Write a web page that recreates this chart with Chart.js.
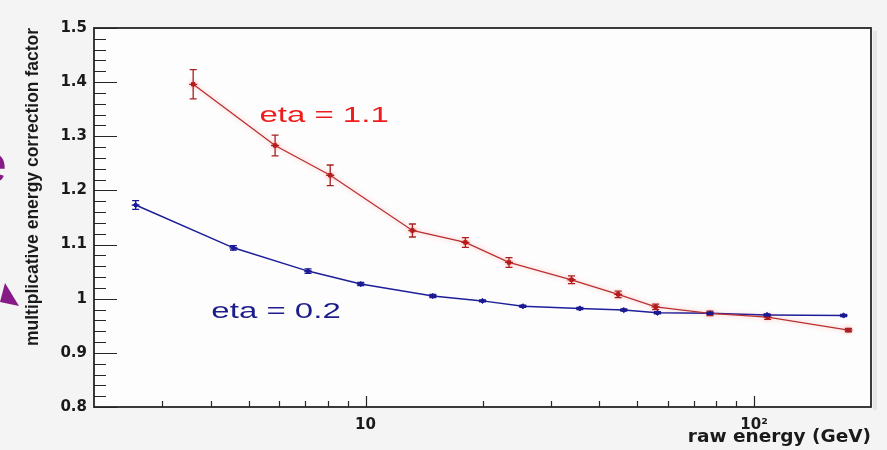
<!DOCTYPE html>
<html>
<head>
<meta charset="utf-8">
<script src="https://cdn.jsdelivr.net/npm/chart.js@4.4.1/dist/chart.umd.min.js"></script>
<style>
  html, body { margin: 0; padding: 0; background: #f4f4f4; }
  #c { display: block; }
</style>
</head>
<body>
<canvas id="c" width="887" height="450"></canvas>
<script>
// eta = 1.1 : raw energy (GeV), correction factor, uncertainty
const energyEta11 = [3.6, 5.85, 8.11, 13.2, 18.07, 23.4, 33.9, 44.7, 55.8, 77, 108.4, 175];
const factorEta11 = [1.396, 1.283, 1.228, 1.126, 1.104, 1.067, 1.035, 1.008, 0.985, 0.973, 0.966, 0.942];
const errorEta11  = [0.027, 0.019, 0.019, 0.012, 0.009, 0.009, 0.007, 0.006, 0.005, 0.004, 0.004, 0.003];

// eta = 0.2
const energyEta02 = [2.56, 4.57, 7.11, 9.72, 14.9, 20, 25.4, 35.6, 46.2, 56.4, 77, 108, 170];
const factorEta02 = [1.173, 1.094, 1.051, 1.027, 1.005, 0.996, 0.986, 0.982, 0.979, 0.974, 0.973, 0.970, 0.969];
const errorEta02  = [0.008, 0.004, 0.004, 0.003, 0.003, 0.002, 0.002, 0.002, 0.002, 0.002, 0.002, 0.002, 0.002];

// axis ticks
const xLabelValues = [10, 100];
const xLabelText   = ['10', '10\u00B2'];
const xMinorValues = [3, 4, 5, 6, 7, 8, 9, 20, 30, 40, 50, 60, 70, 80, 90];
const yLabelValues = [0.8, 0.9, 1.0, 1.1, 1.2, 1.3, 1.4, 1.5];
const yLabelText   = ['0.8', '0.9', '1', '1.1', '1.2', '1.3', '1.4', '1.5'];
const xAxisTitle   = 'raw energy (GeV)';

// series captions: text, anchor energy, anchor value (baseline)
const captions = [
  { text: 'eta = 1.1', energy: 5.33, value: 1.3255, color: '#ee1c1c' },
  { text: 'eta = 0.2', energy: 4.01, value: 0.9638, color: '#1c1c8a' }
];

const toPoints = (xs, ys) => xs.map((x, i) => ({ x: x, y: ys[i] }));

const backgroundPlugin = {
  id: 'background',
  beforeDraw(chart) {
    const { ctx, chartArea: a } = chart;
    ctx.save();
    ctx.fillStyle = '#f4f4f4';
    ctx.fillRect(0, 0, chart.width, chart.height);
    ctx.fillStyle = '#fdfdfd';
    ctx.fillRect(a.left, a.top, a.right - a.left, a.bottom - a.top);
    // soft drop shadow along the right edge of the frame
    ctx.fillStyle = 'rgba(0,0,0,0.06)';
    ctx.fillRect(a.right + 2, a.top + 3, 4, a.bottom - a.top);
    ctx.restore();
  }
};

// faint halo around the red curve
const haloPlugin = {
  id: 'halo',
  beforeDatasetDraw(chart, args) {
    if (args.index !== 0) return;
    const ctx = chart.ctx;
    ctx.save();
    ctx.shadowColor = 'rgba(255,70,70,0.45)';
    ctx.shadowBlur = 5;
  },
  afterDatasetDraw(chart, args) {
    if (args.index !== 0) return;
    chart.ctx.restore();
  }
};

const errorBarPlugin = {
  id: 'errorBars',
  afterDatasetsDraw(chart) {
    const { ctx, scales: { x, y } } = chart;
    const sets = [
      { e: energyEta11, v: factorEta11, err: errorEta11, color: '#a82020' },
      { e: energyEta02, v: factorEta02, err: errorEta02, color: '#1a1a90' }
    ];
    ctx.save();
    ctx.lineWidth = 1.3;
    sets.forEach(s => {
      ctx.strokeStyle = s.color;
      s.e.forEach((en, i) => {
        const px = x.getPixelForValue(en);
        const top = y.getPixelForValue(s.v[i] + s.err[i]);
        const bot = y.getPixelForValue(s.v[i] - s.err[i]);
        const py = y.getPixelForValue(s.v[i]);
        ctx.beginPath();
        ctx.moveTo(px, top); ctx.lineTo(px, bot);
        ctx.moveTo(px - 3.5, top); ctx.lineTo(px + 3.5, top);
        ctx.moveTo(px - 3.5, bot); ctx.lineTo(px + 3.5, bot);
        ctx.moveTo(px - 4, py); ctx.lineTo(px + 4, py);
        ctx.stroke();
      });
    });
    ctx.restore();
  }
};

const framePlugin = {
  id: 'frame',
  afterDraw(chart) {
    const { ctx, chartArea: a, scales: { x, y } } = chart;
    ctx.save();
    ctx.strokeStyle = '#262626';
    ctx.lineWidth = 1.2;
    ctx.beginPath();
    // y ticks pointing inward from the left axis
    for (let k = 0; k <= 35; k++) {
      const v = 0.8 + k * 0.02;
      const py = Math.round(y.getPixelForValue(v)) + 0.5;
      const len = (k % 5 === 0) ? 23 : 12;
      ctx.moveTo(a.left, py); ctx.lineTo(a.left + len, py);
    }
    // x ticks pointing upward from the bottom axis
    xMinorValues.forEach(v => {
      const px = Math.round(x.getPixelForValue(v)) + 0.5;
      ctx.moveTo(px, a.bottom); ctx.lineTo(px, a.bottom - 6);
    });
    xLabelValues.forEach(v => {
      const px = Math.round(x.getPixelForValue(v)) + 0.5;
      ctx.moveTo(px, a.bottom); ctx.lineTo(px, a.bottom - 11);
    });
    ctx.stroke();
    ctx.lineWidth = 1.8;
    ctx.strokeRect(a.left, a.top, a.right - a.left, a.bottom - a.top);

    // x axis title, right-aligned under the frame
    ctx.fillStyle = '#1a1a1a';
    ctx.font = 'bold 18.5px "DejaVu Sans", sans-serif';
    ctx.textAlign = 'right';
    ctx.textBaseline = 'alphabetic';
    ctx.fillText(xAxisTitle, a.right, 442);

    // series captions
    captions.forEach(c => {
      const px = x.getPixelForValue(c.energy);
      const py = y.getPixelForValue(c.value);
      ctx.save();
      ctx.translate(px, py);
      ctx.scale(1.5, 1);
      ctx.fillStyle = c.color;
      ctx.font = '22px "Liberation Sans", Arial, sans-serif';
      ctx.textAlign = 'left';
      ctx.textBaseline = 'alphabetic';
      ctx.fillText(c.text, 0, 0);
      ctx.restore();
    });

    // purple slide pieces at the left edge
    ctx.fillStyle = '#861a86';
    ctx.font = '54px "Liberation Sans", Arial, sans-serif';
    ctx.textAlign = 'right';
    ctx.textBaseline = 'alphabetic';
    ctx.fillText('e', 7, 182);
    ctx.beginPath();
    ctx.moveTo(5, 283);
    ctx.lineTo(19, 306);
    ctx.lineTo(0, 302);
    ctx.closePath();
    ctx.fill();
    ctx.restore();
  }
};

new Chart(document.getElementById('c'), {
  type: 'line',
  data: {
    datasets: [
      {
        label: 'eta = 1.1',
        data: toPoints(energyEta11, factorEta11),
        borderColor: '#b83030',
        borderWidth: 1.3,
        pointStyle: 'rect',
        pointRadius: 2.4,
        pointBackgroundColor: '#e01818',
        pointBorderColor: '#c01010',
        pointBorderWidth: 1,
        tension: 0
      },
      {
        label: 'eta = 0.2',
        data: toPoints(energyEta02, factorEta02),
        borderColor: '#1e1e9a',
        borderWidth: 1.5,
        pointStyle: 'rectRot',
        pointRadius: 2.6,
        pointBackgroundColor: '#2424b8',
        pointBorderColor: '#1a1a9a',
        pointBorderWidth: 1,
        tension: 0
      }
    ]
  },
  options: {
    responsive: false,
    animation: false,
    events: [],
    layout: { padding: { top: 28, right: 16, bottom: 0, left: 0 } },
    plugins: { legend: { display: false }, tooltip: { enabled: false } },
    scales: {
      x: {
        type: 'logarithmic',
        min: 2,
        max: 200,
        grid: { display: false, drawTicks: false },
        border: { display: false },
        afterBuildTicks: (scale) => { scale.ticks = xLabelValues.map(v => ({ value: v })); },
        afterFit: (scale) => { scale.height = 43; },
        ticks: {
          autoSkip: false,
          maxRotation: 0,
          padding: 9,
          color: '#1a1a1a',
          font: { family: '"DejaVu Sans", sans-serif', weight: 'bold', size: 15 },
          callback: (value, index) => xLabelText[index]
        }
      },
      y: {
        type: 'linear',
        min: 0.8,
        max: 1.5,
        grid: { display: false, drawTicks: false },
        border: { display: false },
        afterBuildTicks: (scale) => { scale.ticks = yLabelValues.map(v => ({ value: v })); },
        afterFit: (scale) => { scale.width = 94; },
        ticks: {
          padding: 7,
          color: '#1a1a1a',
          font: { family: '"DejaVu Sans", sans-serif', weight: 'bold', size: 15 },
          callback: (value, index) => yLabelText[index]
        },
        title: {
          display: true,
          text: 'multiplicative energy correction factor',
          align: 'end',
          color: '#1a1a1a',
          padding: { top: 23, bottom: 0 },
          font: { family: '"Liberation Sans", Arial, sans-serif', weight: 'bold', size: 17.5 }
        }
      }
    }
  },
  plugins: [backgroundPlugin, haloPlugin, errorBarPlugin, framePlugin]
});
</script>
</body>
</html>
